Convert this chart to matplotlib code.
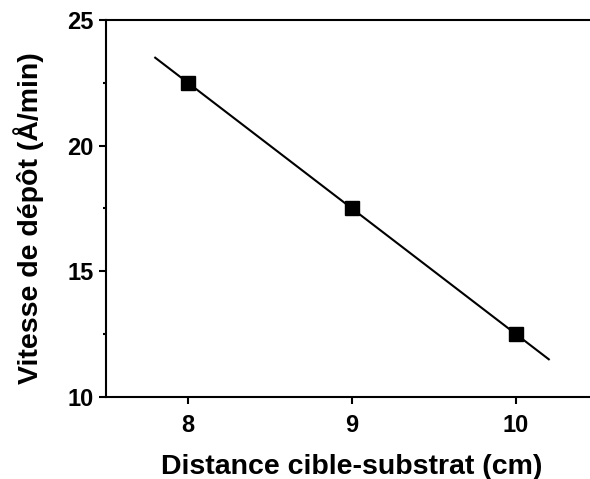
import matplotlib
matplotlib.use("Agg")
import matplotlib.pyplot as plt
from matplotlib.ticker import MultipleLocator

plt.rcParams['font.family'] = ['Liberation Sans', 'DejaVu Sans']
plt.rcParams['font.weight'] = 'bold'

distance = [8, 9, 10]
vitesse = [22.5, 17.5, 12.5]
fit_x = [7.8, 10.2]
fit_y = [23.5, 11.5]

xlabel = "Distance cible-substrat (cm)"
ylabel = "Vitesse de dépôt (Å/min)"

fig = plt.figure(figsize=(5.9, 4.79), dpi=100)
ax = fig.add_axes([106/590, 82/479, (598-106)/590, (397-20)/479])

ax.plot(fit_x, fit_y, color='black', lw=1.5, zorder=2)
ax.plot(distance, vitesse, ls='none', marker='s', ms=9.5, color='black', zorder=3)

ax.set_xlim(7.5, 10.5)
ax.set_ylim(10, 25)
ax.xaxis.set_major_locator(MultipleLocator(1))
ax.yaxis.set_major_locator(MultipleLocator(5))
ax.yaxis.set_minor_locator(MultipleLocator(2.5))

for s in ax.spines.values():
    s.set_linewidth(1.5)
ax.spines['right'].set_visible(False)

ax.tick_params(axis='both', which='major', direction='out', length=5, width=1.5,
               labelsize=17)
ax.tick_params(axis='x', which='major', pad=7.5)
ax.tick_params(axis='y', which='major', pad=4)
ax.tick_params(axis='y', which='minor', direction='out', length=2.5, width=1.5)

for lab in ax.get_xticklabels() + ax.get_yticklabels():
    lab.set_fontweight('bold')

ax.set_xlabel(xlabel, fontsize=20.5, fontweight='bold', labelpad=12)
ax.set_ylabel(ylabel, fontsize=20.5, fontweight='bold', labelpad=17, y=0.475)

fig.savefig('out.png', dpi=100)
